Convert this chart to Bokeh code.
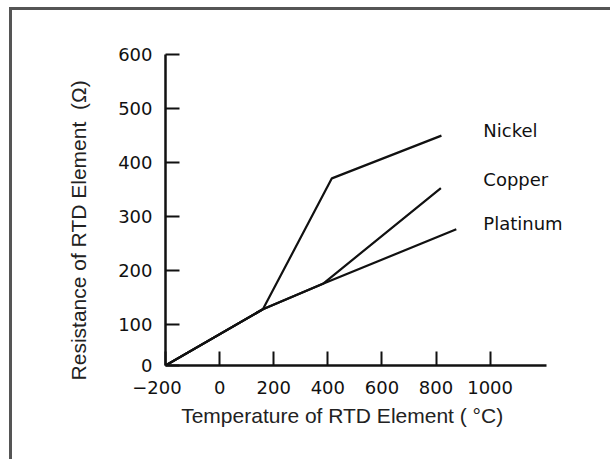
from bokeh.plotting import figure
from bokeh.models import Range1d, FixedTicker, Label
from bokeh.embed import file_html
from bokeh.resources import INLINE

# ---- data ----
nickel_t = [-200, 160, 415, 820]
nickel_r = [25, 129, 371, 450]
copper_t = [-200, 160, 382, 818]
copper_r = [25, 129, 176, 353]
platinum_t = [-200, 160, 382, 875]
platinum_r = [25, 129, 176, 277]

series_names = ["Nickel", "Copper", "Platinum"]
label_t = [975, 975, 975]
label_r = [460, 368, 288]

x_ticks = [-200, 0, 200, 400, 600, 800, 1000]
y_ticks = [25, 100, 200, 300, 400, 500, 600]

NB = "\u00a0"

p = figure(width=601, height=452,
           x_range=Range1d(-200, 1408), y_range=Range1d(25, 600),
           output_backend="svg", toolbar_location=None,
           min_border_left=153, min_border_right=13,
           min_border_top=44, min_border_bottom=97)
p.grid.visible = False
p.outline_line_color = None
p.background_fill_color = "white"
p.border_fill_color = "white"
p.styles = {"border-top": "3px solid #555555", "border-left": "3px solid #555555",
            "margin-left": "9px", "margin-top": "7px"}

for t, r in [(nickel_t, nickel_r), (copper_t, copper_r), (platinum_t, platinum_r)]:
    p.line(t, r, line_color="#111111", line_width=2.2)

for name, t, r in zip(series_names, label_t, label_r):
    p.add_layout(Label(x=t, y=r, text=name, text_font="DejaVu Sans",
                       text_font_size="18px", text_color="#111111",
                       text_baseline="alphabetic", text_align="left"))

# axes
p.xaxis.ticker = FixedTicker(ticks=x_ticks)
p.yaxis.ticker = FixedTicker(ticks=y_ticks)
p.xaxis.bounds = (-200, 1208)
p.xaxis.major_label_overrides = {-200: "\u2212200" + NB * 3}
p.yaxis.major_label_overrides = {25: "0"}
for ax in (p.xaxis, p.yaxis):
    ax.axis_line_width = 2.5
    ax.axis_line_color = "#111111"
    ax.major_tick_line_width = 2
    ax.major_tick_line_color = "#111111"
    ax.major_tick_in = 14
    ax.major_tick_out = 0
    ax.minor_tick_line_color = None
    ax.major_label_text_font = "DejaVu Sans"
    ax.major_label_text_font_size = "18px"
    ax.major_label_text_color = "#111111"
    ax.axis_label_text_font = "Liberation Sans"
    ax.axis_label_text_font_size = "21px"
    ax.axis_label_text_font_style = "normal"
    ax.axis_label_text_color = "#222222"

p.yaxis.major_label_standoff = 13
p.xaxis.major_label_standoff = 11
p.yaxis.axis_label = "Resistance of RTD Element" + NB + " (\u03a9)" + NB * 7
p.xaxis.axis_label = "Temperature of RTD Element ( \u00b0C)" + NB * 14
p.yaxis.axis_label_standoff = 25
p.xaxis.axis_label_standoff = 3

open("out.html", "w").write(file_html(p, INLINE))
